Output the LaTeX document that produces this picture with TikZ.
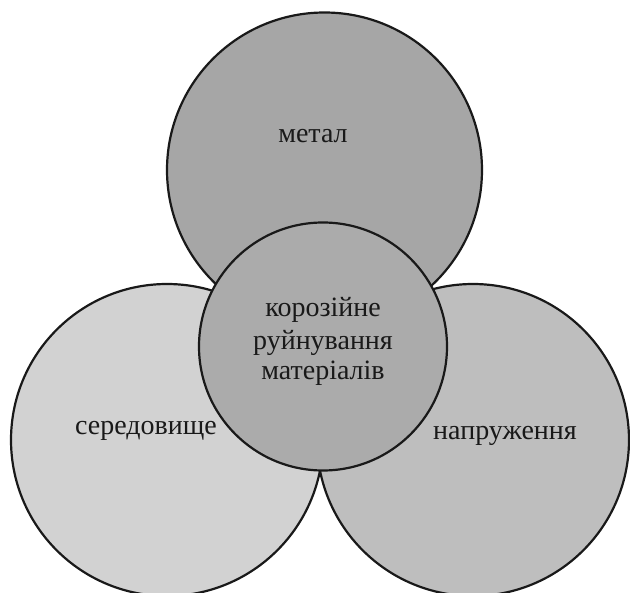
\documentclass[tikz,border=0pt]{standalone}
\usepackage{fontspec}
\setmainfont{Liberation Serif}
\definecolor{ctop}{HTML}{A6A6A6}
\definecolor{cleft}{HTML}{D2D2D2}
\definecolor{cright}{HTML}{BEBEBE}
\definecolor{ccenter}{HTML}{ABABAB}
\begin{document}
\begin{tikzpicture}[x=1pt,y=-1pt,
  ring/.style={circle,draw=black!90,line width=2.2pt,inner sep=0pt},
  lbl/.style={font=\fontsize{28}{33}\selectfont,text=black!90,anchor=base,align=center,inner sep=0pt}]
\useasboundingbox (0,0) rectangle (630,593);
\node[ring,fill=ctop,minimum size=315pt] (metal) at (324.5,170) {};
\node[ring,fill=cleft,minimum size=312pt] (sered) at (167,440) {};
\node[ring,fill=cright,minimum size=312pt] (napr) at (473,440) {};
\node[ring,fill=ccenter,minimum size=248pt] (koroz) at (323,346.5) {};
\node[lbl] (tmetal) at (313,143) {метал};
\node[lbl] (tsered) at (146,435) {середовище};
\node[lbl] (tnapr) at (505,440) {напруження};
\node[lbl] (tk1) at (323,317) {корозійне};
\node[lbl] (tk2) at (323,350) {руйнування};
\node[lbl] (tk3) at (323,380) {матеріалів};
\end{tikzpicture}
\end{document}
